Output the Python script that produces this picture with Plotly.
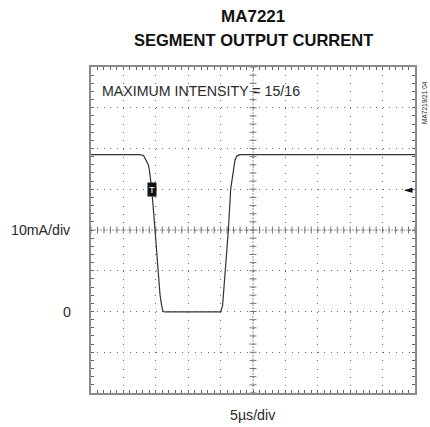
import plotly.graph_objects as go

# waveform (time in µs, current in mA)
t_us = [0, 7.5, 8.1, 8.5, 8.85, 9.0, 9.37, 9.88, 10.39, 10.65, 10.91, 11.1, 11.4,
        15.3, 18.4, 20.0, 20.3, 20.5, 20.8, 21.2, 21.56, 21.96, 22.22, 22.53, 23.0, 50]
i_ma = [38.5, 38.5, 38.3, 37.0, 36.0, 34.8, 30.1, 20.0, 10.2, 4.1, 1.4, 0.0, -0.1,
        -0.1, -0.2, -0.1, 1.4, 5.3, 10.2, 20.0, 30.1, 34.8, 37.2, 38.2, 38.5, 38.5]

title_lines = ["MA7221", "SEGMENT OUTPUT CURRENT"]
note = "MAXIMUM INTENSITY = 15/16"
y_label = "10mA/div"
zero_label = "0"
x_label = "5µs/div"
code_label = "MA7219/21 04"

X_RANGE = [0, 50]
Y_RANGE = [-20, 60]
X_DIV = 5
Y_DIV = 10
trigger_t, trigger_level = 9.37, 30

FONT = "Liberation Sans, Arial, sans-serif"

fig = go.Figure()

# center crosshair
xc = (X_RANGE[0] + X_RANGE[1]) / 2
yc = (Y_RANGE[0] + Y_RANGE[1]) / 2
fig.add_shape(type="line", x0=X_RANGE[0], x1=X_RANGE[1], y0=yc, y1=yc,
              line=dict(color="#bbbbbb", width=1.5, dash="2px,1px"), layer="below")
fig.add_shape(type="line", x0=xc, x1=xc, y0=Y_RANGE[0], y1=Y_RANGE[1],
              line=dict(color="#bbbbbb", width=1.5, dash="2px,1px"), layer="below")
minor_x = [X_RANGE[0] + k * X_DIV / 5 for k in range(int((X_RANGE[1] - X_RANGE[0]) / (X_DIV / 5)) + 1)]
minor_y = [Y_RANGE[0] + k * Y_DIV / 5 for k in range(int((Y_RANGE[1] - Y_RANGE[0]) / (Y_DIV / 5)) + 1)]
fig.add_trace(go.Scatter(x=minor_x, y=[yc] * len(minor_x), mode="markers",
                         marker=dict(symbol="line-ns", size=5, line=dict(color="#777777", width=1)),
                         hoverinfo="skip", showlegend=False))
fig.add_trace(go.Scatter(x=[xc] * len(minor_y), y=minor_y, mode="markers",
                         marker=dict(symbol="line-ew", size=5, line=dict(color="#777777", width=1)),
                         hoverinfo="skip", showlegend=False))

fig.add_trace(go.Scatter(x=t_us, y=i_ma, mode="lines",
                         line=dict(color="#333333", width=1.2), showlegend=False))

axis_common = dict(showline=True, linecolor="#8a8a8a", linewidth=2, mirror="allticks",
                   ticks="inside", ticklen=3, tickcolor="#666666", showticklabels=False,
                   zeroline=False, gridcolor="#6a6a6a", gridwidth=1, fixedrange=True)
fig.update_xaxes(range=X_RANGE, dtick=X_DIV, tick0=0, griddash="1px,7.15px",
                 minor=dict(dtick=X_DIV / 5, ticks="inside", ticklen=3, tickcolor="#666666", showgrid=False),
                 **axis_common)
fig.update_yaxes(range=Y_RANGE, dtick=Y_DIV, tick0=Y_RANGE[0], griddash="1px,5.48px",
                 minor=dict(dtick=Y_DIV / 5, ticks="inside", ticklen=3, tickcolor="#666666", showgrid=False),
                 **axis_common)

ann = []
ann.append(dict(text="<b>" + title_lines[0] + "</b>", xref="paper", yref="paper", x=0.5, y=1.155,
                xanchor="center", yanchor="middle",
                showarrow=False, font=dict(size=17, color="#111111", family=FONT)))
ann.append(dict(text="<b>" + title_lines[1] + "</b>", xref="paper", yref="paper", x=0.5, y=1.083,
                xanchor="center", yanchor="middle",
                showarrow=False, font=dict(size=16.5, color="#111111", family=FONT)))
ann.append(dict(text=note, xref="x", yref="y", x=1.4, y=54, xanchor="left", yanchor="middle",
                showarrow=False, font=dict(size=14.2, color="#2a2a2a", family=FONT)))
ann.append(dict(text=y_label, xref="paper", yref="y", x=-0.056, y=yc, xanchor="right",
                yanchor="middle", showarrow=False, font=dict(size=14.2, color="#2a2a2a", family=FONT)))
ann.append(dict(text=zero_label, xref="paper", yref="y", x=-0.056, y=0, xanchor="right",
                yanchor="middle", showarrow=False, font=dict(size=14.2, color="#2a2a2a", family=FONT)))
ann.append(dict(text=x_label, xref="paper", yref="paper", x=0.5, y=-0.0675, xanchor="center",
                yanchor="middle", showarrow=False, font=dict(size=14.2, color="#2a2a2a", family=FONT)))
ann.append(dict(text=code_label, xref="paper", yref="paper", x=1.031, y=0.89, textangle=-90,
                xanchor="center", yanchor="middle",
                showarrow=False, font=dict(size=6.5, color="#222222", family=FONT)))
ann.append(dict(text="T", xref="x", yref="y", x=trigger_t, y=trigger_level, showarrow=False,
                xanchor="center", yanchor="middle",
                bgcolor="#111111", font=dict(size=9.5, color="white", family=FONT), borderpad=1))
ann.append(dict(text="◄", xref="paper", yref="y", x=1.0, y=trigger_level, xanchor="right",
                yanchor="middle",
                showarrow=False, font=dict(size=11, color="#111111", family="DejaVu Sans")))

fig.update_layout(width=430, height=427, margin=dict(l=91, r=15, t=67, b=34),
                  paper_bgcolor="white", plot_bgcolor="white", annotations=ann,
                  hovermode=False)

fig.write_html("out.html", config={"displayModeBar": False, "staticPlot": True},
               post_script="document.body.style.margin='0';document.body.style.overflow='hidden';")
